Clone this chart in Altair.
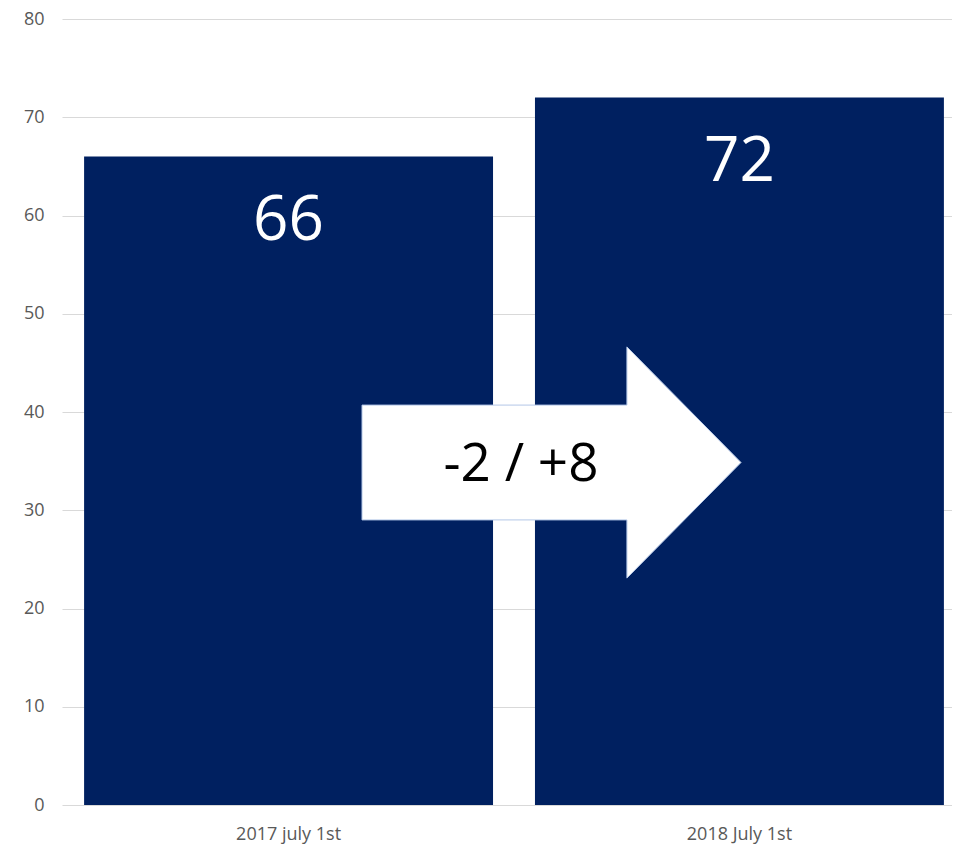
import altair as alt
import pandas as pd

categories = ["2017 july 1st", "2018 July 1st"]
values = [66, 72]
change_label = ["-2 / +8"]
y_ticks = [0, 10, 20, 30, 40, 50, 60, 70, 80]

df = pd.DataFrame({"cat": categories, "val": values})
df_ann = pd.DataFrame({"txt": change_label})

FONT = "Open Sans"
NAVY = "#002060"

x_enc = alt.X(
    "cat:N",
    sort=categories,
    title=None,
    scale=alt.Scale(range=[0, 904], paddingInner=0.093, paddingOuter=0.049),
    axis=alt.Axis(labelAngle=0, labelFontSize=18, labelColor="#595959", labelFont=FONT,
                  ticks=False, domain=False, labelPadding=20, grid=False),
)
y_enc = alt.Y(
    "val:Q",
    title=None,
    scale=alt.Scale(domain=[0, 80], nice=False),
    axis=alt.Axis(values=y_ticks, labelFontSize=18, labelColor="#595959", labelFont=FONT,
                  ticks=False, domain=False, labelPadding=18, gridColor="#d9d9d9", gridWidth=1),
)

base = alt.Chart(df)
bars = base.mark_bar(color=NAVY).encode(x=x_enc, y=y_enc)
labels = base.mark_text(color="white", fontSize=62, font=FONT, baseline="middle", dy=64).encode(
    x=alt.X("cat:N", sort=categories), y=alt.Y("val:Q"), text=alt.Text("val:Q")
)

arrow_path = "M-1,-0.303 L0.398,-0.303 L0.398,-0.61 L1,0 L0.398,0.61 L0.398,0.303 L-1,0.303 Z"
arrow = alt.Chart(df_ann).mark_point(
    shape=arrow_path, filled=True, fill="white", stroke="#b4c7e7", strokeWidth=1,
    size=379 * 379, opacity=1,
).encode(x=alt.value(489.5), y=alt.value(443.5))

ann_text = alt.Chart(df_ann).mark_text(
    color="black", fontSize=53, font=FONT, baseline="middle", align="center"
).encode(x=alt.value(459), y=alt.value(446), text="txt:N")

chart = alt.layer(bars, labels, arrow, ann_text).properties(
    width=890, height=786,
    background="white",
    autosize=alt.AutoSizeParams(type="none"),
    padding={"left": 54, "top": 11, "right": 0, "bottom": 41},
).configure_view(stroke="transparent", strokeWidth=0)

chart.save("out.html", embed_options={"renderer": "svg", "actions": False})
